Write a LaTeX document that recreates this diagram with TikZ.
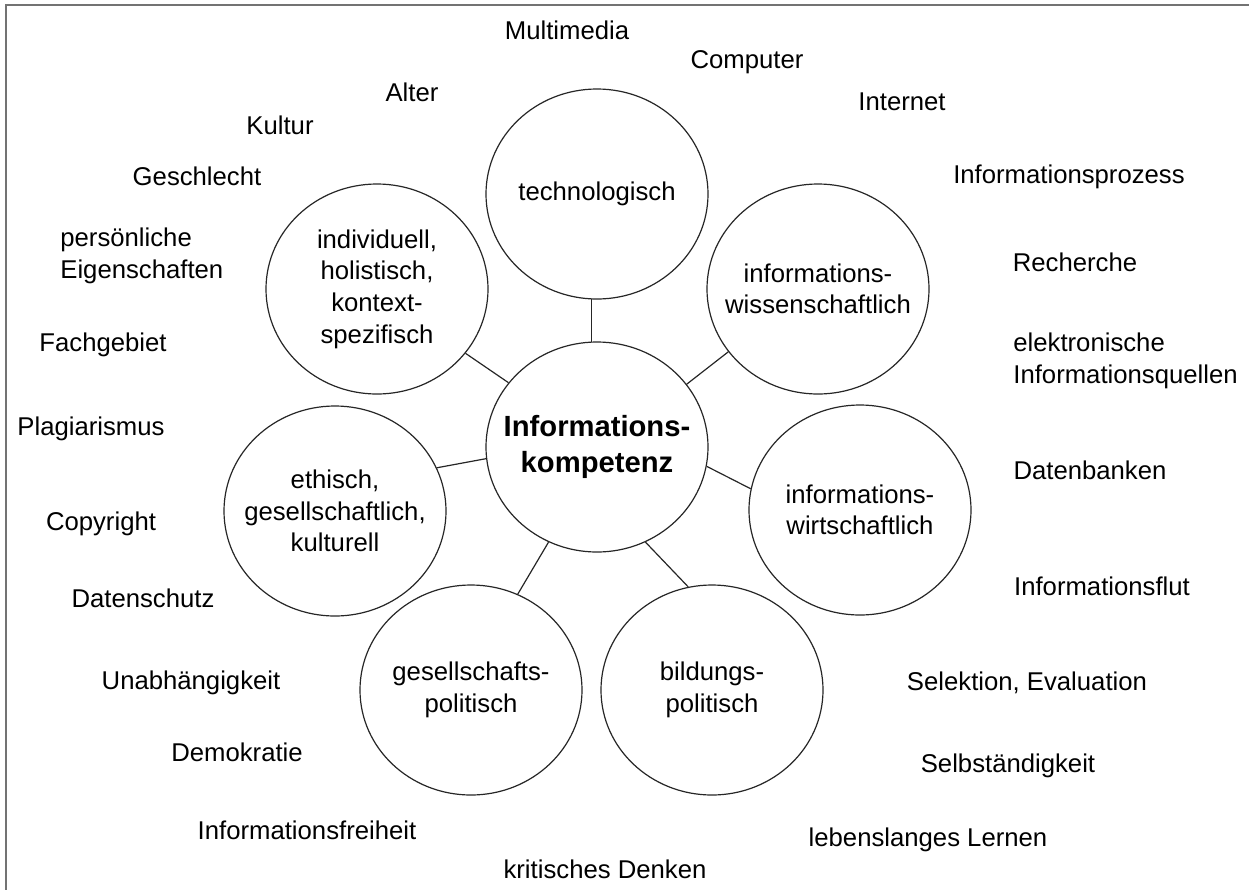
\documentclass[tikz,border=0pt]{standalone}
\usepackage{fontspec}
\setmainfont{Liberation Sans}
\usetikzlibrary{shapes.geometric}

\begin{document}
\begin{tikzpicture}[x=0.5pt, y=-0.5pt,
    bubble/.style={draw=black!85, line width=0.6pt, ellipse, inner xsep=-16pt, inner ysep=0pt,
        minimum width=111pt, minimum height=105pt, align=center,
        font=\fontsize{12.85}{15.8}\selectfont},
    core/.style={bubble, font=\fontsize{14.6}{18}\selectfont\bfseries},
    term/.style={font=\fontsize{12.85}{16}\selectfont, inner sep=0pt},
    link/.style={draw=black!85, line width=0.6pt}]
    \useasboundingbox (0, 0) rectangle (1249, 890);
    \draw[black!55, line width=1pt] (1249, 5) -- (6, 5) -- (6, 890);

    \node[core] (komp) at (597, 447) {Informations-\\kompetenz};
    \node[bubble] (tech) at (597, 194) {technologisch};
    \node[bubble] (wiss) at (818, 289) {informations-\\wissenschaftlich};
    \node[bubble] (wirt) at (860, 510) {informations-\\wirtschaftlich};
    \node[bubble] (bild) at (712, 690) {bildungs-\\politisch};
    \node[bubble] (gpol) at (471, 690) {gesellschafts-\\politisch};
    \node[bubble] (ethi) at (335, 511) {ethisch,\\gesellschaftlich,\\kulturell};
    \node[bubble] (indi) at (377, 289) {individuell,\\holistisch,\\kontext-\\spezifisch};

    \draw[link] (komp.93) -- (tech.267);
    \draw[link] (komp.35) -- (wiss.215);
    \draw[link] (komp.-10) -- (wirt.169);
    \draw[link] (komp.-63) -- (bild.103);
    \draw[link] (komp.243) -- (gpol.64);
    \draw[link] (komp.186) -- (ethi.23);
    \draw[link] (komp.144) -- (indi.-36);

    \node[term] (t1) at (567, 30) {Multimedia};
    \node[term] (t2) at (747, 62) {Computer};
    \node[term] (t3) at (902, 102) {Internet};
    \node[term] (t4) at (1069, 177) {Informationsprozess};
    \node[term] (t5) at (1075, 262) {Recherche};
    \node[term, align=left, anchor=west] (t6) at (1013, 361) {elektronische\\Informationsquellen};
    \node[term] (t7) at (1090, 470) {Datenbanken};
    \node[term] (t8) at (1102, 586) {Informationsflut};
    \node[term] (t9) at (1027, 683) {Selektion, Evaluation};
    \node[term] (t10) at (1008, 766) {Selbständigkeit};
    \node[term] (t11) at (928, 840) {lebenslanges Lernen};
    \node[term] (t12) at (605, 869) {kritisches Denken};
    \node[term] (t13) at (307, 830) {Informationsfreiheit};
    \node[term] (t14) at (237, 752) {Demokratie};
    \node[term] (t15) at (191, 683) {Unabhängigkeit};
    \node[term] (t16) at (143, 598) {Datenschutz};
    \node[term] (t17) at (101, 524) {Copyright};
    \node[term] (t18) at (91, 429) {Plagiarismus};
    \node[term] (t19) at (103, 345) {Fachgebiet};
    \node[term, align=left, anchor=west] (t20) at (60, 256) {persönliche\\Eigenschaften};
    \node[term] (t21) at (197, 176) {Geschlecht};
    \node[term] (t22) at (280, 125) {Kultur};
    \node[term] (t23) at (412, 92) {Alter};
\end{tikzpicture}
\end{document}
